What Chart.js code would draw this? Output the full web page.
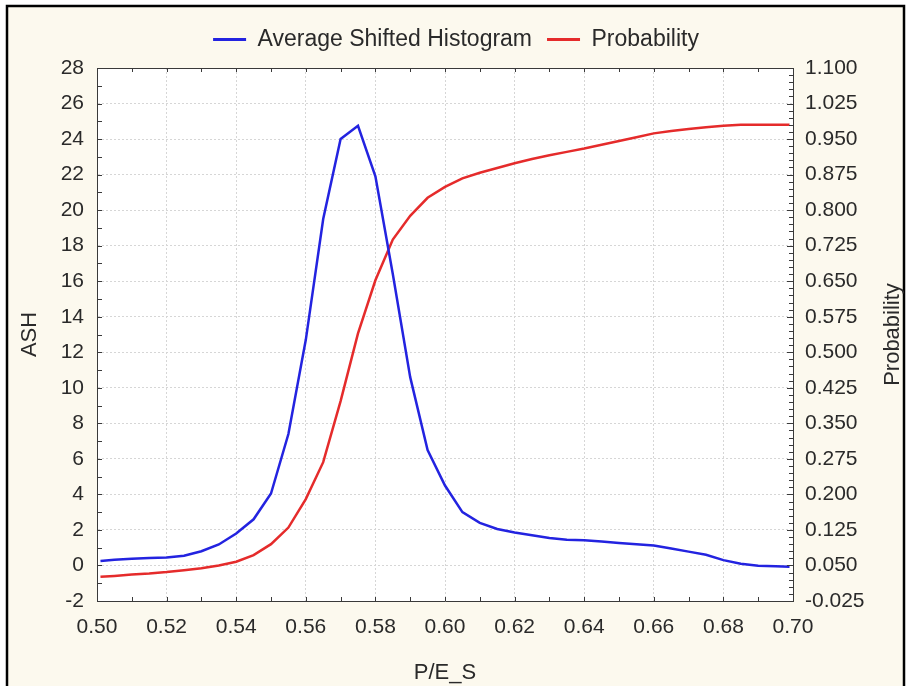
<!DOCTYPE html>
<html><head><meta charset="utf-8">
<script src="https://cdn.jsdelivr.net/npm/chart.js@4.4.1/dist/chart.umd.min.js"></script>
<style>html,body{margin:0;padding:0;background:#fff;}canvas{display:block;}</style>
</head><body>
<canvas id="c" width="907" height="686"></canvas>
<script>
// ---- data ----
const peValues = [0.501,0.505,0.510,0.515,0.520,0.525,0.530,0.535,0.540,0.545,0.550,0.555,0.560,0.565,0.570,0.575,0.580,0.585,0.590,0.595,0.600,0.605,0.610,0.615,0.620,0.625,0.630,0.635,0.640,0.645,0.650,0.655,0.660,0.665,0.670,0.675,0.680,0.685,0.690,0.695,0.699];
const ashValues = [0.25,0.32,0.38,0.42,0.45,0.55,0.80,1.18,1.80,2.60,4.05,7.4,12.7,19.5,24.0,24.75,21.9,16.4,10.6,6.5,4.5,3.0,2.4,2.05,1.85,1.7,1.55,1.45,1.42,1.35,1.27,1.2,1.12,0.95,0.78,0.6,0.3,0.1,-0.02,-0.05,-0.07];
const probValues = [0.026,0.028,0.031,0.033,0.036,0.040,0.044,0.050,0.058,0.072,0.095,0.130,0.190,0.268,0.397,0.540,0.652,0.738,0.788,0.826,0.849,0.867,0.879,0.889,0.899,0.908,0.916,0.923,0.930,0.938,0.946,0.954,0.962,0.967,0.971,0.975,0.978,0.980,0.980,0.980,0.980];
const xTicks = [0.50,0.52,0.54,0.56,0.58,0.60,0.62,0.64,0.66,0.68,0.70];
const ashTicks = [-2,0,2,4,6,8,10,12,14,16,18,20,22,24,26,28];
const probTicks = [-0.025,0.050,0.125,0.200,0.275,0.350,0.425,0.500,0.575,0.650,0.725,0.800,0.875,0.950,1.025,1.100];
const xMinorStep = 0.01, ashMinorStep = 1, probMinorStep = 0.015;

const FONT = "'Liberation Sans', Arial, sans-serif";
const TXT = '#2a2a2a';

const decorPlugin = {
  id: 'decor',
  beforeLayout(chart) {
    const lg = chart.legend;
    if (lg && !lg._patched) {
      lg._patched = true;
      const proto = Object.getPrototypeOf(lg);
      lg.fit = function () { proto.fit.call(this); this.height += 7; };
    }
  },
  beforeDraw(chart) {
    const ctx = chart.ctx, a = chart.chartArea;
    ctx.save();
    ctx.fillStyle = '#ffffff';
    ctx.fillRect(0, 0, chart.width, chart.height);
    ctx.fillStyle = '#fcf9ee';
    ctx.fillRect(7, 6, 897, 700);
    ctx.strokeStyle = '#000';
    ctx.lineWidth = 2.5;
    ctx.strokeRect(7, 6, 897, 700);
    ctx.fillStyle = '#ffffff';
    ctx.fillRect(a.left, a.top, a.right - a.left, a.bottom - a.top);
    ctx.restore();
  },
  afterDraw(chart) {
    const ctx = chart.ctx, a = chart.chartArea;
    const xs = chart.scales.x, ys = chart.scales.y, ps = chart.scales.y2;
    ctx.save();
    ctx.strokeStyle = '#3a3a3a';
    ctx.lineWidth = 1;
    ctx.beginPath();
    // top border
    ctx.moveTo(a.left, Math.round(a.top) + 0.5);
    ctx.lineTo(a.right, Math.round(a.top) + 0.5);
    // x ticks bottom & top
    for (let v = xs.min; v <= xs.max + 1e-9; v += xMinorStep) {
      const px = Math.round(xs.getPixelForValue(v)) + 0.5;
      ctx.moveTo(px, a.bottom); ctx.lineTo(px, a.bottom - 4);
      ctx.moveTo(px, a.top); ctx.lineTo(px, a.top + 4);
    }
    // left ticks
    for (let v = ys.min; v <= ys.max + 1e-9; v += ashMinorStep) {
      const py = Math.round(ys.getPixelForValue(v)) + 0.5;
      ctx.moveTo(a.left, py); ctx.lineTo(a.left + 5, py);
    }
    // right ticks
    let k = 0;
    for (let v = ps.min; v <= ps.max + 1e-9; v += probMinorStep, k++) {
      const py = Math.round(ps.getPixelForValue(v)) + 0.5;
      const len = (k % 5 === 0) ? 6 : 4;
      ctx.moveTo(a.right, py); ctx.lineTo(a.right - len, py);
    }
    ctx.stroke();
    // right axis title (reads bottom-to-top)
    ctx.translate(893, (a.top + a.bottom) / 2);
    ctx.rotate(-Math.PI / 2);
    ctx.fillStyle = TXT;
    ctx.font = '22px ' + FONT;
    ctx.textAlign = 'center';
    ctx.textBaseline = 'middle';
    ctx.fillText('Probability', 0, 0);
    ctx.restore();
  }
};

const ashPoints = peValues.map((x, i) => ({ x: x, y: ashValues[i] }));
const probPoints = peValues.map((x, i) => ({ x: x, y: probValues[i] }));

new Chart(document.getElementById('c'), {
  type: 'line',
  data: {
    datasets: [
      { label: 'Average Shifted Histogram', data: ashPoints, yAxisID: 'y',
        borderColor: '#2323e0', backgroundColor: '#2323e0', borderWidth: 2.5,
        pointRadius: 0, tension: 0, fill: false },
      { label: 'Probability', data: probPoints, yAxisID: 'y2',
        borderColor: '#e52b2b', backgroundColor: '#e52b2b', borderWidth: 2.5,
        pointRadius: 0, tension: 0, fill: false }
    ]
  },
  options: {
    responsive: false,
    animation: false,
    devicePixelRatio: 1,
    layout: { padding: { top: 13, left: 5, right: 0, bottom: 0 } },
    plugins: {
      tooltip: { enabled: false },
      legend: {
        position: 'top',
        labels: {
          font: { family: FONT, size: 23 },
          color: TXT,
          boxWidth: 33,
          boxHeight: 3,
          padding: 15,
          generateLabels(chart) {
            return Chart.defaults.plugins.legend.labels.generateLabels(chart)
              .map(l => Object.assign(l, { lineWidth: 0, fillStyle: l.strokeStyle }));
          }
        }
      }
    },
    scales: {
      x: {
        type: 'linear', position: 'bottom', min: 0.5, max: 0.7,
        afterBuildTicks(s) { s.ticks = xTicks.map(v => ({ value: v })); },
        afterFit(s) { s.height = 85; },
        ticks: { font: { family: FONT, size: 21 }, color: TXT, padding: 14,
                 maxRotation: 0, autoSkip: false,
                 callback: v => Number(v).toFixed(2) },
        grid: { color: '#d6d6d6', drawTicks: false },
        border: { color: '#3a3a3a', width: 1, dash: [2, 2] },
        title: { display: true, text: 'P/E_S', font: { family: FONT, size: 22 },
                 color: TXT, padding: { top: 7, bottom: 0 } }
      },
      y: {
        type: 'linear', position: 'left', min: -2, max: 28,
        afterBuildTicks(s) { s.ticks = ashTicks.map(v => ({ value: v })); },
        afterFit(s) { s.width = 92; },
        ticks: { font: { family: FONT, size: 21 }, color: TXT, padding: 13,
                 autoSkip: false, callback: v => String(v) },
        grid: { color: '#d6d6d6', drawTicks: false },
        border: { color: '#3a3a3a', width: 1, dash: [2, 2] },
        title: { display: true, text: 'ASH', font: { family: FONT, size: 22 },
                 color: TXT, padding: { top: 12, bottom: 0 } }
      },
      y2: {
        type: 'linear', position: 'right', min: -0.025, max: 1.1,
        afterBuildTicks(s) { s.ticks = probTicks.map(v => ({ value: v })); },
        afterFit(s) { s.width = 114; },
        ticks: { font: { family: FONT, size: 21 }, color: TXT, padding: 12,
                 autoSkip: false, callback: v => Number(v).toFixed(3) },
        grid: { display: false, drawTicks: false },
        border: { color: '#3a3a3a', width: 1 }
      }
    }
  },
  plugins: [decorPlugin]
});
</script>
</body></html>
